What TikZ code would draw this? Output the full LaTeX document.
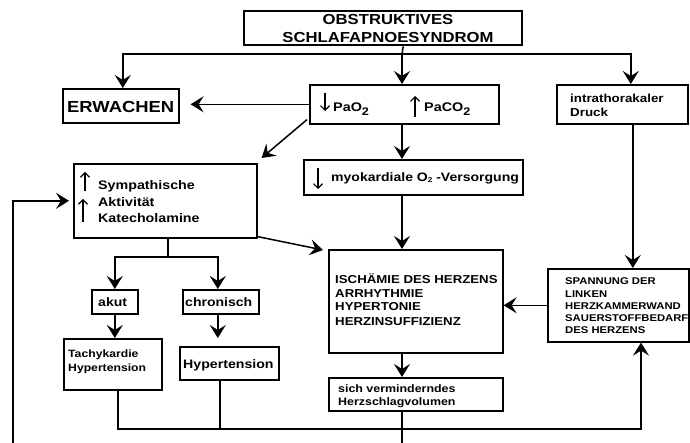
\documentclass[tikz,border=0pt]{standalone}
\usepackage{fontspec}
\setmainfont{Liberation Sans}
\newfontfamily\widesans[FakeStretch=1.15]{Liberation Sans}
\usetikzlibrary{arrows.meta}
\newcommand{\fs}[2]{\widesans\bfseries\fontsize{#1}{#2}\selectfont}
\begin{document}
\begin{tikzpicture}[x=1pt,y=-1pt,
  box/.style={draw, line width=1.6pt, inner sep=0, anchor=north west},
  con/.style={line width=1.5pt},
  arr/.style={con, -{Stealth[length=13pt,width=16pt,inset=5pt]}},
  garr/.style={line width=1.1pt, -{Straight Barb[length=4.5pt,width=9pt]}},
  lbl/.style={inner sep=0, anchor=base west, align=left},
]
\useasboundingbox (0,0) rectangle (690,443);
\clip (0,0) rectangle (690,443);
% boxes
\node[box, line width=2.4pt, minimum width=278pt, minimum height=34pt] (top) at (243,10) {};
\node[box, minimum width=116pt, minimum height=34pt] (erw) at (62,88) {};
\node[box, minimum width=189pt, minimum height=39pt] (pa) at (309,84) {};
\node[box, minimum width=131pt, minimum height=39pt] (intra) at (556,84) {};
\node[box, minimum width=183pt, minimum height=74pt] (symp) at (73,163) {};
\node[box, minimum width=219pt, minimum height=35pt] (myo) at (303,159) {};
\node[box, minimum width=174pt, minimum height=103pt] (isch) at (328,249) {};
\node[box, minimum width=141pt, minimum height=73pt] (span) at (547,268) {};
\node[box, minimum width=174pt, minimum height=33pt] (herz) at (328,377) {};
\node[box, minimum width=46pt, minimum height=24pt] (akut) at (91,289) {};
\node[box, minimum width=76pt, minimum height=24pt] (chron) at (182,289) {};
\node[box, minimum width=98pt, minimum height=51pt] (tachy) at (63,338) {};
\node[box, minimum width=99pt, minimum height=33pt] (hyp) at (179,346) {};
% texts (base anchor = baseline of last line)
\node[lbl, anchor=base, align=center, font=\fs{14.5}{18}] (topt) at (388,43) {OBSTRUKTIVES\\SCHLAFAPNOESYNDROM};
\node[lbl, font=\fs{16}{18}] (erwt) at (67,113) {ERWACHEN};
\node[lbl, font=\fs{12.5}{14}] (pat1) at (333,112) {PaO\raisebox{-4pt}{\fontsize{11}{11}\selectfont 2}};
\node[lbl, font=\fs{12.5}{14}] (pat2) at (424,112) {PaCO\raisebox{-4pt}{\fontsize{11}{11}\selectfont 2}};
\node[lbl, font=\fs{11.6}{14}] (intrat) at (570,117) {intrathorakaler\\Druck};
\node[lbl, font=\fs{12.4}{16.5}] (sympt) at (98,223) {Sympathische\\Aktivität\\Katecholamine};
\node[lbl, font=\fs{12.2}{14}] (myot) at (331,182) {myokardiale O\raisebox{-1pt}{\fontsize{7}{7}\selectfont 2} -Versorgung};
\node[lbl, font=\fs{11.5}{14}] (ischt) at (335,325) {ISCHÄMIE DES HERZENS\\ARRHYTHMIE\\HYPERTONIE\\HERZINSUFFIZIENZ};
\node[lbl, font=\fs{9.8}{12.3}] (spant) at (565,334) {SPANNUNG DER\\LINKEN\\HERZKAMMERWAND\\SAUERSTOFFBEDARF\\DES HERZENS};
\node[lbl, font=\fs{10.8}{13}] (herzt) at (338,405) {sich verminderndes\\Herzschlagvolumen};
\node[lbl, font=\fs{12.2}{14}] (akutt) at (98,306) {akut};
\node[lbl, font=\fs{12.2}{14}] (chront) at (185,306) {chronisch};
\node[lbl, font=\fs{10.6}{14}] (tachyt) at (68,371) {Tachykardie\\Hypertension};
\node[lbl, font=\fs{12.3}{14}] (hypt) at (183,368) {Hypertension};
% small text arrows
\coordinate (a1s) at (325,93); \coordinate (a1e) at (325,111);
\draw[garr] (a1s) -- (a1e);
\coordinate (a2s) at (415,117); \coordinate (a2e) at (415,96);
\draw[garr] (a2s) -- (a2e);
\coordinate (a3s) at (318,168); \coordinate (a3e) at (318,189);
\draw[garr] (a3s) -- (a3e);
\coordinate (a4s) at (85,191); \coordinate (a4e) at (85,172);
\draw[garr] (a4s) -- (a4e);
\coordinate (a5s) at (83,222); \coordinate (a5e) at (83,199);
\draw[garr] (a5s) -- (a5e);
% connectors
\coordinate (tj) at (402,54);
\draw[con] ([xshift=20pt]top.south) -- (tj);
\draw[arr] (tj) -| ([xshift=2pt]erw.north);
\draw[arr] (tj) -| ([xshift=8.5pt]intra.north);
\draw[arr] (tj) -- (tj |- pa.north);
\draw[arr] (tj |- pa.south) -- (tj |- myo.north);
\draw[arr] (tj |- myo.south) -- (tj |- isch.north);
\draw[arr] (tj |- isch.south) -- (tj |- herz.north);
\draw[arr, shorten >=11pt] (pa.west) -- (erw.east |- pa.west);
\draw[arr] ([xshift=-2pt,yshift=5pt]pa.south west) -- ([xshift=4pt,yshift=5pt]symp.north east);
\draw[arr] ([yshift=2pt]symp.south east) -- ([xshift=-5pt,yshift=-1pt]isch.north west);
\draw[arr] ([xshift=10.5pt]intra.south) -- ([xshift=10.5pt]intra.south |- span.north);
\draw[arr] (span.west) -- (isch.east |- span.west);
\coordinate (sp) at (168,257);
\draw[con] (symp.south -| sp) -- (sp);
\draw[arr] (sp) -| (akut.north);
\draw[arr] (sp) -| ([xshift=-3pt]chron.north);
\draw[arr] (akut.south) -- (akut.south |- tachy.north);
\draw[arr, shorten >=8pt] ([xshift=-3pt]chron.south) -- ([xshift=-3pt]chron.south |- hyp.north);
\coordinate (bus) at (641,429);
\draw[arr] ([xshift=5pt]tachy.south) |- (bus) -- (bus |- span.south);
\draw[con] ([xshift=-9.5pt]hyp.south) -- ([xshift=-9.5pt]hyp.south |- bus);
\coordinate (fb) at (13,452);
\draw[arr, shorten >=4pt] (tj |- herz.south) -- (tj |- fb) -- (fb) |- (symp.west);
\end{tikzpicture}
\end{document}
